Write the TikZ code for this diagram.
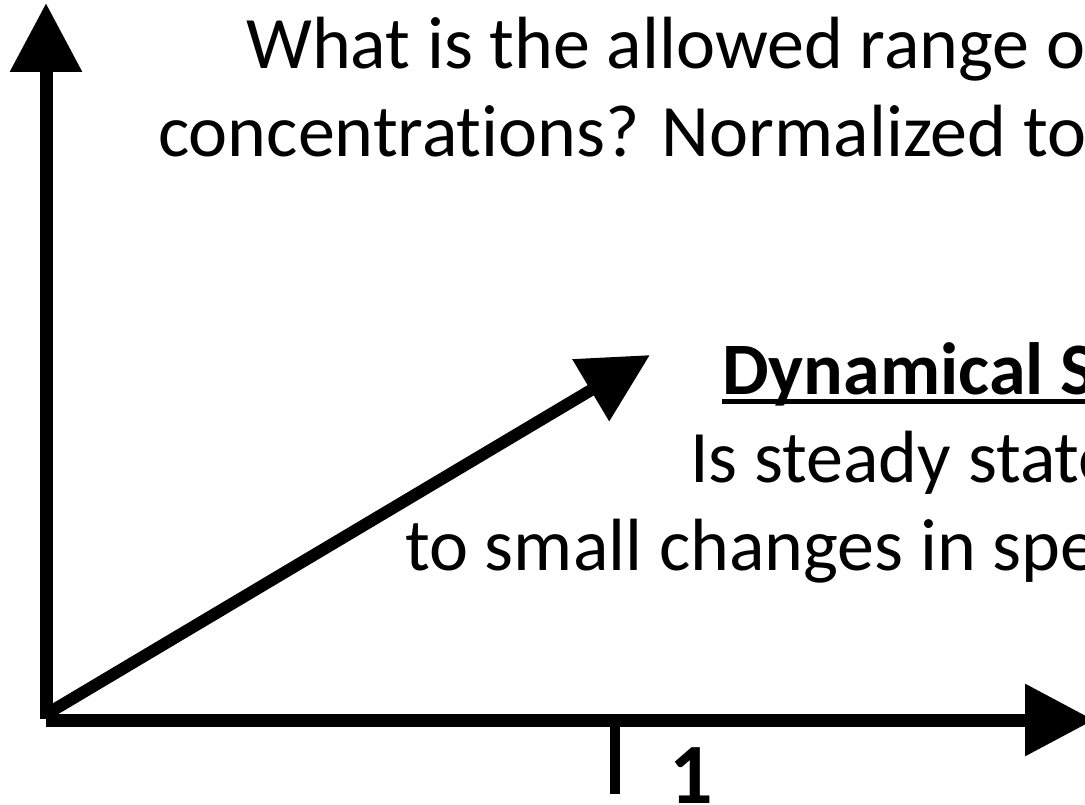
\documentclass[tikz,border=0pt]{standalone}
\usepackage{fontspec}
\setmainfont{Carlito}[Ligatures=NoCommon]
\usepackage{tikz}
\usetikzlibrary{arrows.meta, positioning, calc}

\begin{document}
\begin{tikzpicture}[
        x=1pt, y=-1pt,
        axisArrow/.style={
            -{Triangle[length=69pt, width=69pt]},
            line width=13pt,
            black
        },
        slopeArrow/.style={
            -{Triangle[length=69pt, width=69pt]},
            line width=12pt,
            black
        },
        bigText/.style={
            anchor=base west,
            inner sep=0pt,
            font=\fontsize{74}{90}\selectfont
        },
        boldText/.style={
            bigText,
            font=\fontsize{74}{90}\selectfont\bfseries
        }
    ]

    % Frame of the slide
    \useasboundingbox (0,0) rectangle (1085,805);
    \clip (0,0) rectangle (1085,805);

    % Axis points
    \coordinate (origin) at (46,719);
    \coordinate (yTip) at (46,3);
    \coordinate (xStart) at (46,720);
    \coordinate (xTip) at (1094,720);
    \coordinate (vecStart) at (50,712);
    \coordinate (vecTip) at (650,355);
    \coordinate (tickTop) at (615,720);
    \coordinate (tickBot) at (615,794);

    % Question text
    \node[bigText] (q1) at (246,69) {What is the allowed range o};
    \node[bigText] (q2) at (158,157) {concentrations? Normalized to};

    % Stability text
    \node[boldText] (dyn) at (722,394) {Dynamical S};
    \node[bigText] (s1) at (690,482) {Is steady state};
    \node[bigText] (s2) at (405,570) {to small changes in spe};
    \draw[line width=5pt] ([yshift=-7pt]dyn.base west) -- ([yshift=-7pt]dyn.base east);

    % Axes
    \draw[axisArrow] (origin) -- (yTip);
    \draw[axisArrow] (xStart) -- (xTip);
    \draw[slopeArrow] (vecStart) -- (vecTip);

    % Tick at 1
    \draw[line width=10pt] (tickTop) -- (tickBot);
    \node[anchor=north, inner sep=0pt, font=\fontsize{86}{100}\selectfont\bfseries] (one) at (691,747) {1};

\end{tikzpicture}
\end{document}
